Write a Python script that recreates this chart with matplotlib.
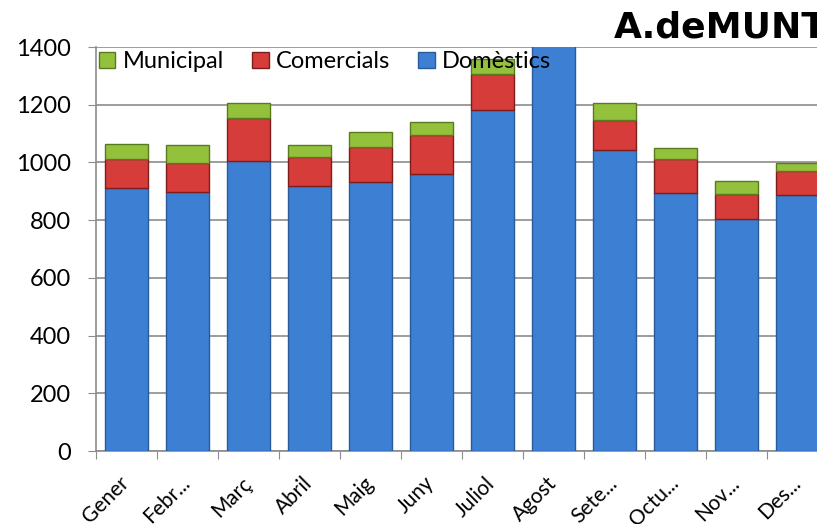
import numpy as np
import matplotlib.pyplot as plt
import matplotlib.transforms as mtransforms

plt.rcParams['font.family'] = ['Lato', 'DejaVu Sans']

# Data
mesos = ["Gener", "Febr...", "Març", "Abril", "Maig", "Juny", "Juliol",
         "Agost", "Sete...", "Octu...", "Nov...", "Des..."]
domestics = [911, 896, 1005, 918, 931, 959, 1182, 1460, 1043, 893, 803, 887]
comercials = [101, 101, 148, 102, 123, 136, 123, 110, 104, 118, 86, 83]
municipal = [52, 63, 54, 40, 50, 45, 52, 50, 60, 40, 47, 29]

fig = plt.figure(figsize=(8.17, 5.24), dpi=100)
# chart is cut off on the right, so the axes run past the figure edge
ax = fig.add_axes([96 / 817, 73 / 524, 732 / 817, 404 / 524])

x = np.arange(len(mesos))
w = 0.7
dom = np.array(domestics)
com = np.array(comercials)
mun = np.array(municipal)

b1 = ax.bar(x, dom, w, color="#3D7FD3", edgecolor="#2A5A9A", linewidth=1.0,
            label="Domèstics", zorder=3)
b2 = ax.bar(x, com, w, bottom=dom, color="#D63C3A", edgecolor="#7E1E1C",
            linewidth=1.0, label="Comercials", zorder=3)
b3 = ax.bar(x, mun, w, bottom=dom + com, color="#94C13C", edgecolor="#5A7A20",
            linewidth=1.0, label="Municipal", zorder=3)

ax.set_xlim(-0.5, len(mesos) - 0.5)
ax.set_ylim(0, 1400)
ax.set_yticks(range(0, 1401, 200))
ax.grid(axis="y", color="#8C8C8C", linewidth=1.2, zorder=0)

for s in ["top", "right"]:
    ax.spines[s].set_visible(False)
ax.spines["left"].set_color("#8C8C8C")
ax.spines["bottom"].set_color("#8C8C8C")
ax.spines["left"].set_linewidth(1.2)
ax.spines["bottom"].set_linewidth(1.2)

ax.tick_params(axis="y", length=6, color="#8C8C8C", labelsize=17, pad=12)
ax.set_xticks(np.arange(-0.5, len(mesos), 1))
ax.set_xticklabels([])
ax.tick_params(axis="x", which="major", length=6, color="#8C8C8C")
ax.set_xticks(x, minor=True)
ax.set_xticklabels(mesos, minor=True, rotation=45, ha="right", va="baseline",
                   rotation_mode="anchor", fontsize=15)
ax.tick_params(axis="x", which="minor", length=0, pad=24)
offset = mtransforms.ScaledTranslation(4 / 100, 0, fig.dpi_scale_trans)
for lbl in ax.get_xticklabels(minor=True):
    lbl.set_transform(lbl.get_transform() + offset)

handles = [b3, b2, b1]
ax.legend(handles, [h.get_label() for h in handles], loc="upper left",
          ncol=3, frameon=False, fontsize=17, handlelength=0.7,
          handleheight=0.7, columnspacing=1.2, handletextpad=0.3,
          borderaxespad=0.0, bbox_to_anchor=(-0.009, 1.013))

fig.text(614 / 817, 1 - 38 / 524, "A.deMUNT", fontsize=26, fontweight="bold",
         family="DejaVu Sans", ha="left", va="baseline")

fig.savefig("out.png", dpi=100)
